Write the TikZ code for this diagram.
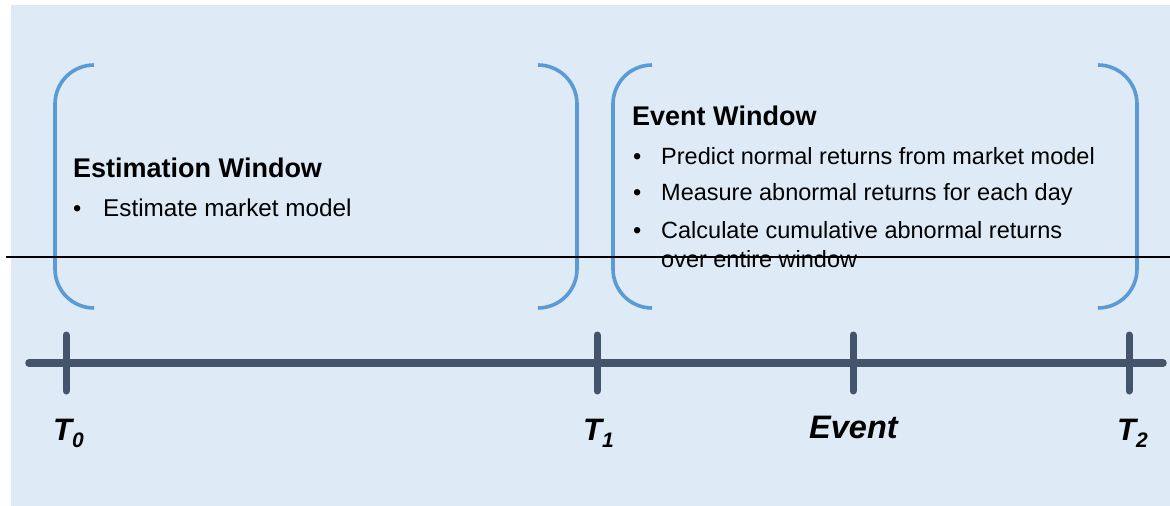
\documentclass[tikz,border=0pt]{standalone}
\usepackage{fontspec}
\setmainfont{Liberation Sans}
\definecolor{bgblue}{HTML}{DEEAF6}
\definecolor{brk}{HTML}{5B9BD5}
\definecolor{axiscol}{HTML}{44546A}
\begin{document}
\begin{tikzpicture}[x=1pt,y=-1pt,
  bracket/.style={draw=brk,line width=3.6pt,rounded corners=39pt},
  axisline/.style={draw=axiscol,line width=7.5pt,line cap=round},
  ticktick/.style={draw=axiscol,line width=7pt,line cap=round},
  title/.style={anchor=base west,inner sep=0pt,font=\fontsize{27}{32}\selectfont\bfseries},
  btext/.style={anchor=base west,inner sep=0pt,font=\fontsize{23.5}{28}\selectfont},
  tlabel/.style={anchor=base west,inner sep=0pt,font=\fontsize{31}{36}\selectfont\bfseries\itshape}]
\useasboundingbox (0,0) rectangle (1170,506);
\fill[bgblue] (11,5) rectangle (1170,506);
% brackets
\draw[bracket] (94,65) -- (55,65) -- (55,308) -- (94,308);
\draw[bracket] (538,65) -- (577,65) -- (577,308) -- (538,308);
\draw[bracket] (652,65) -- (613,65) -- (613,308) -- (652,308);
\draw[bracket] (1098,65) -- (1137,65) -- (1137,308) -- (1098,308);
% texts
\node[title] (estt) at (73,177) {Estimation Window};
\node[btext] (estb1) at (73,216) {•};
\node[btext,font=\fontsize{24.3}{28}\selectfont] (estl1) at (103,216) {Estimate market model};
\node[title] (evt) at (632,125) {Event Window};
\node[btext] (evb1) at (633,164) {•};
\node[btext] (evl1) at (661,164) {Predict normal returns from market model};
\node[btext] (evb2) at (633,200) {•};
\node[btext] (evl2) at (661,200) {Measure abnormal returns for each day};
\node[btext] (evb3) at (633,238) {•};
\node[btext] (evl3) at (661,238) {Calculate cumulative abnormal returns};
\node[btext] (evl4) at (661,267) {over entire window};
% timeline
\coordinate (axL) at (29,363);
\coordinate (axR) at (1163,363);
\draw[axisline] (axL) -- (axR);
\foreach \n/\x in {t0/66,t1/597,ev/853,t2/1129}{
  \coordinate (\n top) at (\x,335);
  \coordinate (\n bot) at (\x,391);
  \draw[ticktick] (\n top) -- (\n bot);
}
\node[tlabel] (lt0) at (53,440) {T\raisebox{-7pt}{\fontsize{21}{24}\selectfont 0}};
\node[tlabel] (lt1) at (583,440) {T\raisebox{-7pt}{\fontsize{21}{24}\selectfont 1}};
\node[tlabel,font=\fontsize{32.5}{36}\selectfont\bfseries\itshape] (lev) at (809,438) {Event};
\node[tlabel] (lt2) at (1117,440) {T\raisebox{-7pt}{\fontsize{21}{24}\selectfont 2}};
% thin black line
\coordinate (hl) at (6,257);
\coordinate (hr) at (1170,257);
\draw[black,line width=1.6pt] (hl) -- (hr);
\end{tikzpicture}
\end{document}
